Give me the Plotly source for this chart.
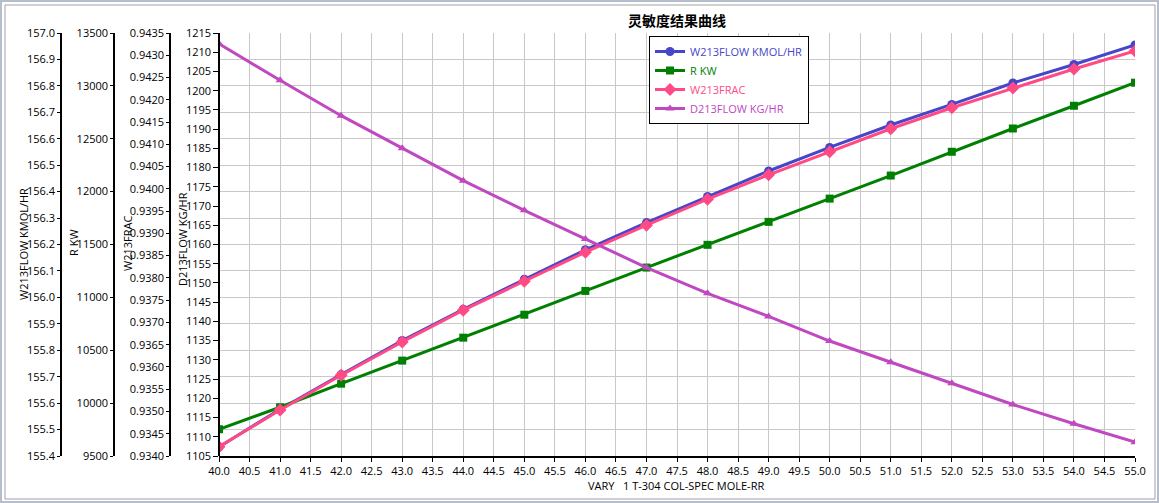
import plotly.graph_objects as go

W, H = 1159, 503

vary_rr = [40, 41, 42, 43, 44, 45, 46, 47, 48, 49, 50, 51, 52, 53, 54, 55]
w213flow_kmol = [155.434, 155.577, 155.708, 155.837, 155.955, 156.069, 156.180, 156.283,
                 156.382, 156.478, 156.567, 156.652, 156.730, 156.811, 156.881, 156.955]
r_kw = [9753, 9961, 10184, 10402, 10619, 10836, 11061, 11282,
        11497, 11714, 11934, 12152, 12377, 12597, 12812, 13030]
w213frac = [0.934209, 0.935034, 0.935814, 0.936562, 0.937275, 0.937926, 0.938578, 0.939185,
            0.939769, 0.940315, 0.940832, 0.941349, 0.941821, 0.942264, 0.942691, 0.943095]
d213flow_kg = [1212.2, 1202.7, 1193.5, 1185.0, 1176.6, 1168.9, 1161.4, 1154.0,
               1147.3, 1141.3, 1134.9, 1129.4, 1123.9, 1118.4, 1113.4, 1108.6]

x_range = [40.0, 55.0]
w213flow_range = [155.4, 157.0]
r_kw_range = [9500, 13500]
w213frac_range = [0.9340, 0.9435]
d213flow_range = [1105, 1215]

BLUE = "#4646C8"
GREEN = "#008000"
PINK = "#FF4A86"
PURPLE = "#C048C0"
GRID = "#C8C8C8"
FONT = "Open Sans, Noto Sans CJK SC, sans-serif"

# plot area in pixels
left, right, top, bottom = 219, 1135, 33, 456


def px(x):
    return x / W


def py(y):
    return 1 - y / H


def legend_name(text, color):
    return f'<span style="color:{color}">{text}</span>'


fig = go.Figure()
fig.add_trace(go.Scatter(
    x=vary_rr, y=w213flow_kmol, yaxis="y", mode="lines+markers",
    line={"color": BLUE, "width": 3}, marker={"symbol": "circle", "size": 9, "color": BLUE},
    name=legend_name("W213FLOW KMOL/HR", BLUE),
))
fig.add_trace(go.Scatter(
    x=vary_rr, y=r_kw, yaxis="y2", mode="lines+markers",
    line={"color": GREEN, "width": 3}, marker={"symbol": "square", "size": 8, "color": GREEN},
    name=legend_name("R KW", GREEN),
))
fig.add_trace(go.Scatter(
    x=vary_rr, y=w213frac, yaxis="y3", mode="lines+markers",
    line={"color": PINK, "width": 3}, marker={"symbol": "diamond", "size": 10, "color": PINK},
    name=legend_name("W213FRAC", PINK),
))
fig.add_trace(go.Scatter(
    x=vary_rr, y=d213flow_kg, yaxis="y4", mode="lines+markers",
    line={"color": PURPLE, "width": 3}, marker={"symbol": "triangle-up", "size": 8, "color": PURPLE},
    name=legend_name("D213FLOW KG/HR", PURPLE),
))

ydom = [py(bottom), py(top)]
axis_common = {
    "showline": True, "linecolor": "black", "linewidth": 1.5,
    "ticks": "outside", "ticklen": 3, "tickcolor": "black",
    "tickfont": {"size": 11, "color": "black"}, "zeroline": False,
    "domain": ydom, "anchor": "free",
}

fig.update_layout(
    width=W, height=H, autosize=False,
    margin={"l": 0, "r": 0, "t": 0, "b": 0, "autoexpand": False},
    paper_bgcolor="white", plot_bgcolor="white",
    font={"family": FONT, "size": 11, "color": "black"},
    title={"text": "<b>灵敏度结果曲线</b>", "x": px(677), "y": py(21), "xref": "paper", "yref": "paper",
           "xanchor": "center", "yanchor": "middle",
           "font": {"size": 14, "family": "Noto Sans CJK SC", "color": "black"}},
    xaxis={
        "domain": [px(left), px(right)], "range": x_range, "dtick": 0.5, "tick0": 40,
        "tickformat": ".1f", "showgrid": True, "gridcolor": GRID, "gridwidth": 1,
        "showline": True, "linecolor": "black", "linewidth": 1.5,
        "ticks": "outside", "ticklen": 4, "tickcolor": "black", "zeroline": False,
        "anchor": "y4", "tickfont": {"size": 11, "color": "black"},
    },
    yaxis={**axis_common, "range": w213flow_range, "dtick": 0.1, "tick0": 155.4, "tickformat": ".1f",
           "position": px(61), "showgrid": True, "gridcolor": GRID, "gridwidth": 1},
    yaxis2={**axis_common, "range": r_kw_range, "dtick": 500, "tick0": 9500, "tickformat": "d",
            "position": px(114), "overlaying": "y", "showgrid": False},
    yaxis3={**axis_common, "range": w213frac_range, "dtick": 0.0005, "tick0": 0.934, "tickformat": ".4f",
            "position": px(170), "overlaying": "y", "showgrid": False},
    yaxis4={**axis_common, "range": d213flow_range, "dtick": 5, "tick0": 1105, "tickformat": "d",
            "position": px(left), "overlaying": "y", "showgrid": False, "ticklen": 5},
    legend={"x": px(649), "y": py(36), "xanchor": "left", "yanchor": "top",
            "bgcolor": "white", "bordercolor": "black", "borderwidth": 1,
            "font": {"size": 11}, "itemwidth": 30, "tracegroupgap": 0},
    showlegend=True,
)

axis_titles = [
    ("W213FLOW KMOL/HR", 23, 244),
    ("R KW", 73, 243),
    ("W213FRAC", 127, 244),
    ("D213FLOW KG/HR", 183, 239),
]
for text, ax, ay in axis_titles:
    fig.add_annotation(text=text, x=px(ax), y=py(ay), xref="paper", yref="paper",
                       textangle=-90, showarrow=False, font={"size": 11, "color": "black"},
                       xanchor="center", yanchor="middle")

fig.add_annotation(text="VARY\u00a0\u00a0\u00a01 T-304 COL-SPEC MOLE-RR", x=px(676), y=py(485),
                   xref="paper", yref="paper", showarrow=False, font={"size": 11, "color": "black"},
                   xanchor="center", yanchor="middle")

# window frame
fig.add_shape(type="rect", xref="paper", yref="paper", x0=px(1), y0=py(1), x1=px(W - 1), y1=py(H - 1),
              line={"color": "#B4BECC", "width": 2})
fig.add_shape(type="rect", xref="paper", yref="paper", x0=px(5), y0=py(5), x1=px(W - 4), y1=py(H - 4),
              line={"color": "#A0A0A0", "width": 1})

fig.write_html("out.html", config={"displayModeBar": False},
               post_script="document.body.style.margin='0';")
